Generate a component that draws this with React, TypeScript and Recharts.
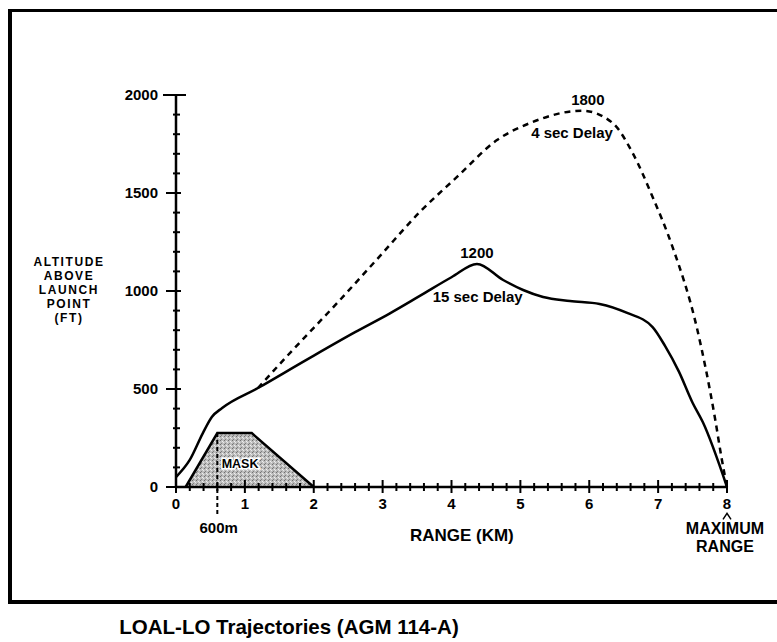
import { ComposedChart, Line, Area, XAxis, YAxis, ReferenceLine, ReferenceDot } from "recharts";

// 15 sec delay trajectory (solid)
const delay15Range = [0, 0.2, 0.39, 0.52, 0.67, 1.19, 1.9, 2.6, 3.1, 3.54, 4.0, 4.37, 4.75, 5.04, 5.33, 5.72, 6.15, 6.55, 6.92, 7.1, 7.3, 7.5, 7.65, 8.0];
const delay15Alt = [51, 138, 275, 357, 403, 505, 650, 790, 885, 975, 1070, 1138, 1056, 1005, 969, 949, 934, 888, 816, 720, 590, 430, 330, 0];

// 4 sec delay trajectory (dashed), branches off the 15 sec curve
const delay4Range = [1.19, 1.6, 2.38, 2.96, 3.54, 4.08, 4.66, 5.14, 5.9, 6.34, 6.63, 6.92, 7.21, 7.56, 7.83, 7.92, 8.0];
const delay4Alt = [505, 663, 954, 1178, 1403, 1582, 1770, 1857, 1920, 1857, 1704, 1480, 1224, 816, 342, 150, 0];

// terrain mask
const maskRange = [0.14, 0.6, 1.1, 2.0];
const maskAlt = [0, 275, 275, 0];

const xTicks = [0, 0.2, 0.4, 0.6, 0.8, 1, 1.2, 1.4, 1.6, 1.8, 2, 2.2, 2.4, 2.6, 2.8, 3, 3.2, 3.4, 3.6, 3.8, 4, 4.2, 4.4, 4.6, 4.8, 5, 5.2, 5.4, 5.6, 5.8, 6, 6.2, 6.4, 6.6, 6.8, 7, 7.2, 7.4, 7.6, 7.8, 8];
const yTicks = [0, 100, 200, 300, 400, 500, 600, 700, 800, 900, 1000, 1100, 1200, 1300, 1400, 1500, 1600, 1700, 1800, 1900, 2000];

const delay15 = delay15Range.map((x, i) => ({ x, alt: delay15Alt[i] }));
const delay4 = delay4Range.map((x, i) => ({ x, alt: delay4Alt[i] }));
const mask = maskRange.map((x, i) => ({ x, alt: maskAlt[i] }));

const FONT = '"Liberation Sans", Arial, Helvetica, sans-serif';

// annotations placed in data space
const notes = [
  { text: "1800", x: 5.98, y: 1974, size: 15 },
  { text: "4 sec Delay", x: 5.75, y: 1806, size: 15 },
  { text: "1200", x: 4.37, y: 1194, size: 15 },
  { text: "15 sec Delay", x: 4.38, y: 969, size: 15 },
  { text: "MASK", x: 0.93, y: 122, size: 12.5, halo: true },
  { text: "600m", x: 0.62, y: -209, size: 15 },
  { text: "MAXIMUM", x: 7.97, y: -210, size: 16 },
  { text: "RANGE", x: 7.97, y: -302, size: 16 },
  { text: "RANGE (KM)", x: 4.15, y: -245, size: 17 },
];

const XTick = ({ x, y, payload }: any) => {
  const v = payload.value;
  const major = Math.abs(v - Math.round(v)) < 1e-6;
  return (
    <g>
      <line x1={x} x2={x} y1={major ? y - 7 : y - 4} y2={major ? y + 6 : y + 4} stroke="#000" strokeWidth={2} />
      {major && (
        <text x={x} y={y + 22} textAnchor="middle" fontSize={15} fontWeight="bold" fontFamily={FONT} fill="#000">
          {Math.round(v)}
        </text>
      )}
    </g>
  );
};

const YTick = ({ x, y, payload }: any) => {
  const v = payload.value;
  const major = v % 500 === 0;
  const left = v === 2000 ? 13 : major ? 10 : 3;
  const right = v === 2000 ? 10 : major ? 5 : 4;
  return (
    <g>
      <line x1={x - left} x2={x + right} y1={y} y2={y} stroke="#000" strokeWidth={2} />
      {major && (
        <text x={x - 18} y={y + 5} textAnchor="end" fontSize={15} fontWeight="bold" fontFamily={FONT} fill="#000">
          {v}
        </text>
      )}
    </g>
  );
};

const yLabel = ["ALTITUDE", "ABOVE", "LAUNCH", "POINT", "(FT)"];

export default function App() {
  return (
    <div style={{ position: "absolute", left: 0, top: 0, width: 777, height: 642, overflow: "hidden", background: "#fff" }}>
      {/* frame */}
      <div
        style={{
          position: "absolute",
          left: 8,
          top: 9,
          width: 769,
          height: 595,
          boxSizing: "border-box",
          borderTop: "3px solid #000",
          borderLeft: "4px solid #000",
          borderBottom: "4px solid #000",
        }}
      />
      <svg width={777} height={642} style={{ position: "absolute", left: 0, top: 0 }}>
        {yLabel.map((t, i) => (
          <text key={t} x={69} y={266 + i * 14} textAnchor="middle" fontSize={12} letterSpacing={1.6} fontWeight="bold" fontFamily={FONT} fill="#000">
            {t}
          </text>
        ))}
        <text x={289} y={634} textAnchor="middle" fontSize={20.5} fontWeight="bold" fontFamily={FONT} fill="#000">
          LOAL-LO Trajectories (AGM 114-A)
        </text>
      </svg>
      <div style={{ position: "absolute", left: 0, top: 0 }}>
        <ComposedChart width={777} height={642} margin={{ top: 95, right: 50, bottom: 125, left: 116 }}>
          <defs>
            <pattern id="stipple" width="4" height="4" patternUnits="userSpaceOnUse">
              <rect width="4" height="4" fill="#bdbdbd" />
              <rect x="0" y="0" width="1" height="1" fill="#707070" />
              <rect x="2" y="1" width="1" height="1" fill="#f0f0f0" />
              <rect x="1" y="3" width="1" height="1" fill="#808080" />
              <rect x="3" y="2" width="1" height="1" fill="#e8e8e8" />
            </pattern>
          </defs>
          <XAxis
            dataKey="x"
            type="number"
            domain={[0, 8]}
            ticks={xTicks}
            interval={0}
            height={30}
            tickSize={0}
            tickMargin={0}
            tickLine={false}
            axisLine={{ stroke: "#000", strokeWidth: 2.5 }}
            tick={<XTick />}
          />
          <YAxis
            type="number"
            domain={[0, 2000]}
            ticks={yTicks}
            interval={0}
            width={60}
            tickSize={0}
            tickMargin={0}
            tickLine={false}
            axisLine={{ stroke: "#000", strokeWidth: 2.5 }}
            tick={<YTick />}
          />
          <Area
            data={mask}
            dataKey="alt"
            type="linear"
            stroke="#000"
            strokeWidth={2.5}
            fill="url(#stipple)"
            fillOpacity={1}
            baseValue={0}
            isAnimationActive={false}
          />
          <ReferenceLine
            segment={[{ x: 0.6, y: 275 }, { x: 0.6, y: -150 }]}
            stroke="#000"
            strokeWidth={2}
            strokeDasharray="4 3"
            ifOverflow="visible"
          />
          <Line data={delay4} dataKey="alt" type="monotone" stroke="#000" strokeWidth={2.5} strokeDasharray="6 5" dot={false} isAnimationActive={false} />
          <Line data={delay15} dataKey="alt" type="monotone" stroke="#000" strokeWidth={2.5} dot={false} isAnimationActive={false} />
          {/* caret marking maximum range */}
          <ReferenceDot
            x={8}
            y={-150}
            r={0}
            ifOverflow="visible"
            shape={(p: any) => (
              <path d={`M${p.cx - 4},${p.cy + 3} L${p.cx},${p.cy - 3} L${p.cx + 4},${p.cy + 3}`} fill="none" stroke="#000" strokeWidth={1.5} />
            )}
          />
          {notes.map((n) => (
            <ReferenceDot
              key={n.text + n.y}
              x={n.x}
              y={n.y}
              r={0}
              ifOverflow="visible"
              shape={(p: any) => (
                <text
                  x={p.cx}
                  y={p.cy}
                  dy="0.36em"
                  textAnchor="middle"
                  fontSize={n.size}
                  fontWeight="bold"
                  fontFamily={FONT}
                  fill="#000"
                  stroke={n.halo ? "#fff" : "none"}
                  strokeWidth={n.halo ? 3 : 0}
                  paintOrder="stroke"
                >
                  {n.text}
                </text>
              )}
            />
          ))}
        </ComposedChart>
      </div>
    </div>
  );
}
